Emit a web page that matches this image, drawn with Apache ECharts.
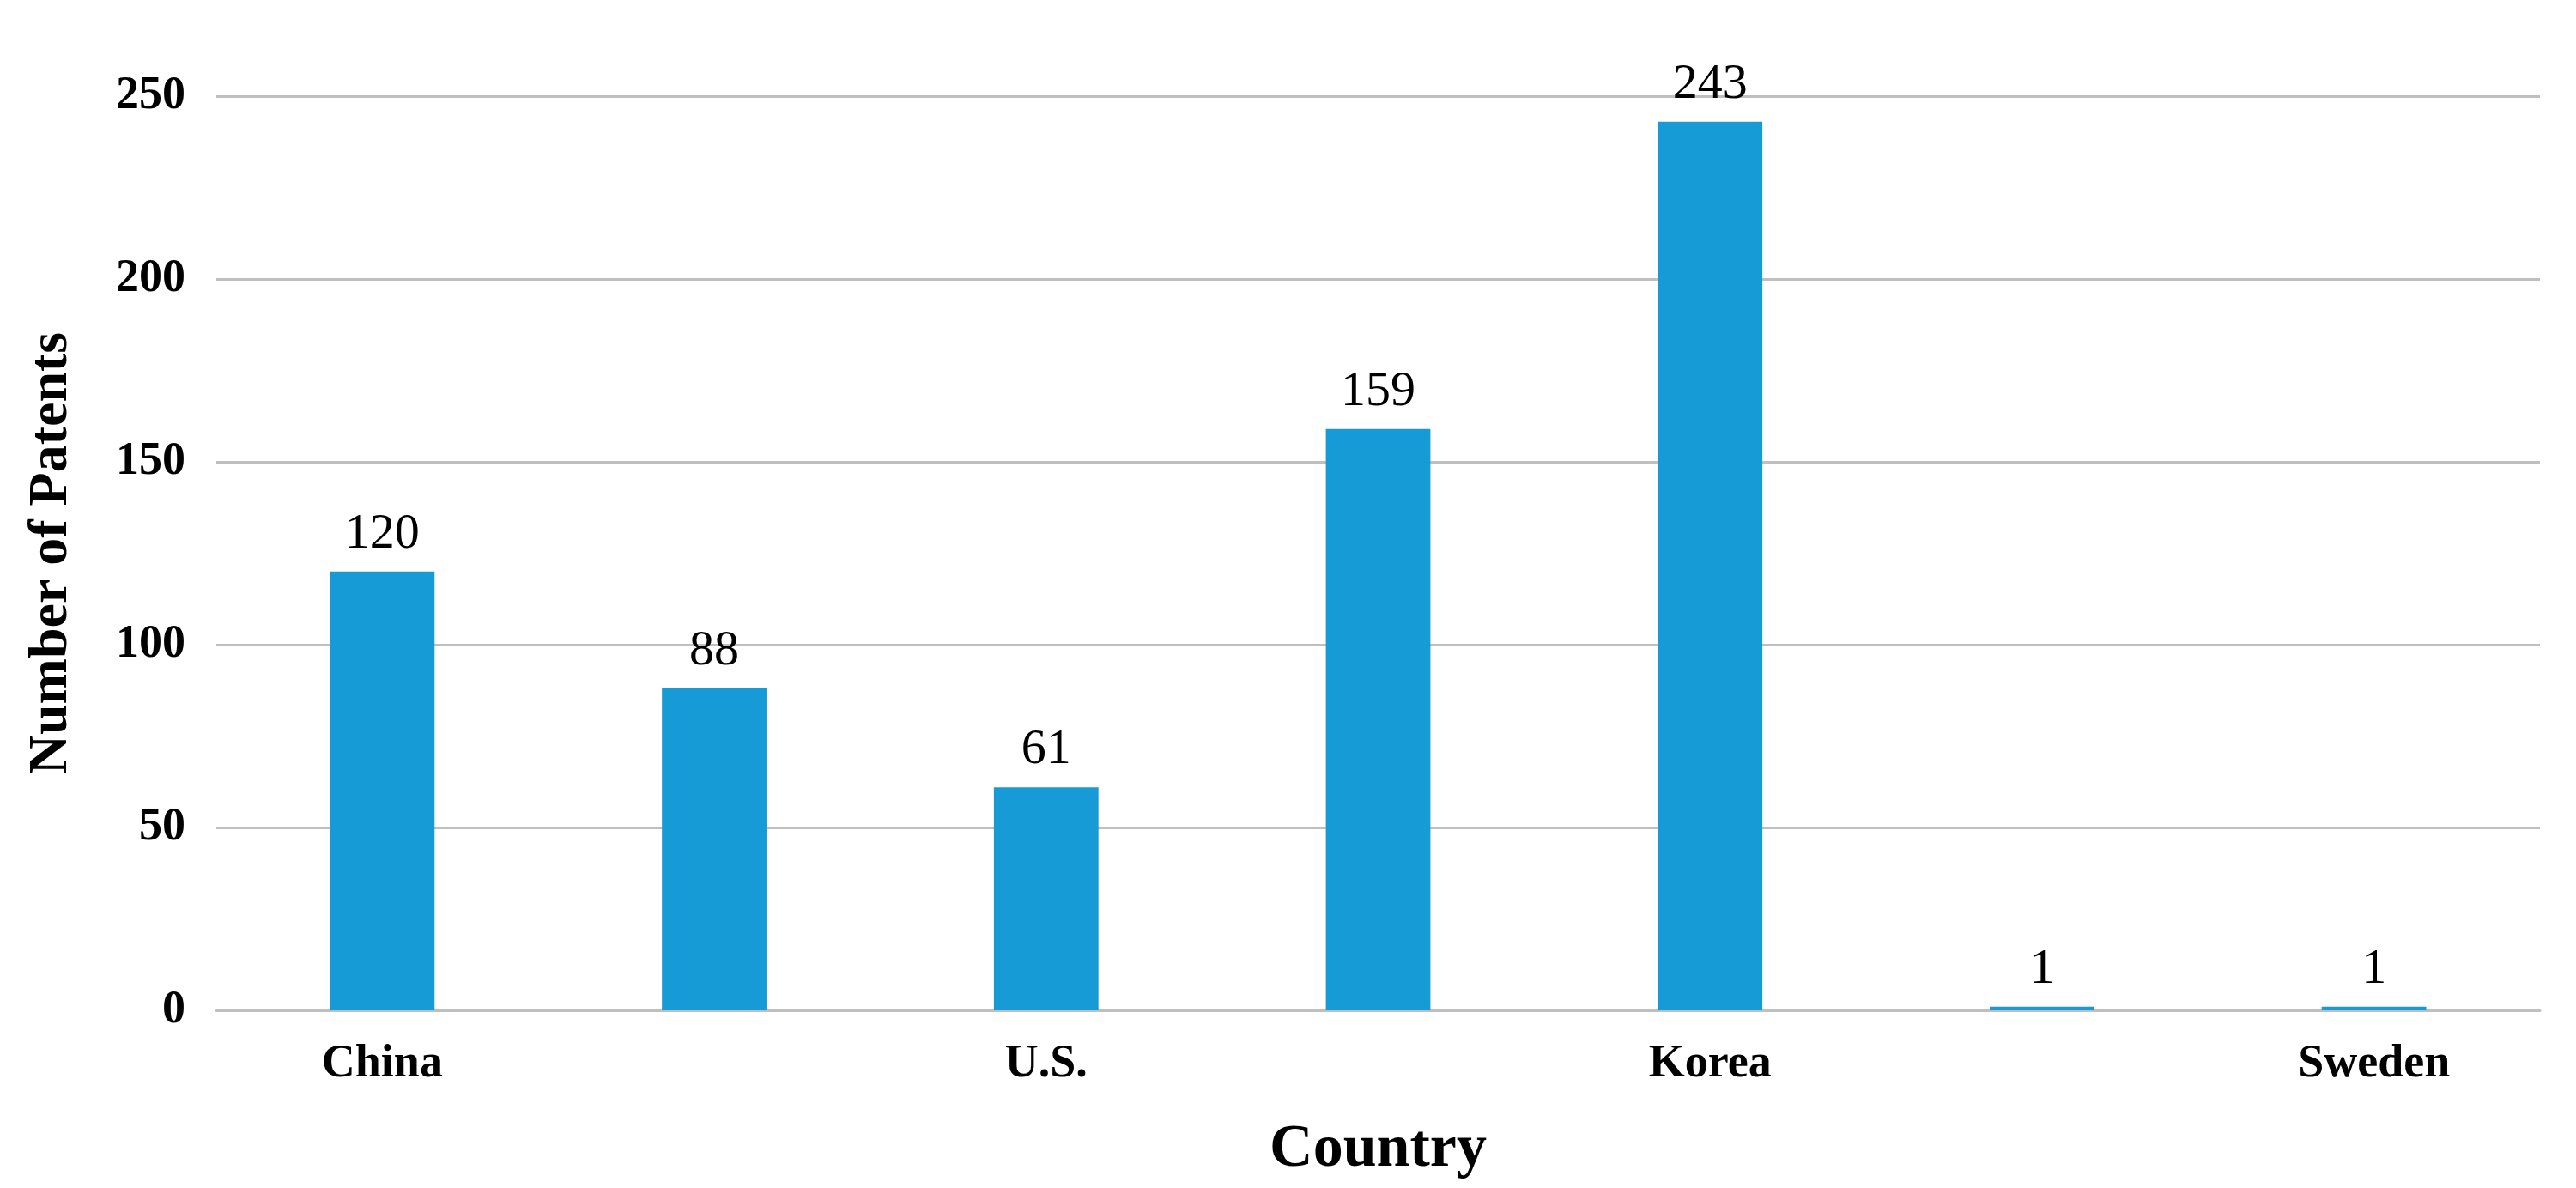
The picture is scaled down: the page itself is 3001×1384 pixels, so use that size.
<!DOCTYPE html>
<html><head><meta charset="utf-8">
<script src="https://cdn.jsdelivr.net/npm/echarts@6/dist/echarts.min.js"></script>
<style>html,body{margin:0;padding:0;background:#fff}#c{width:3001px;height:1384px}</style>
</head><body><div id="c"></div>
<script>
const categories = ['China','Germany','U.S.','Japan','Korea','Czechoslovakia','Sweden'];
const patents = [120, 88, 61, 159, 243, 1, 1];
const yTicks = [0, 50, 100, 150, 200, 250];
const F = '"Liberation Serif","Times New Roman",serif';
const chart = echarts.init(document.getElementById('c'));
chart.setOption({
  animation:false,
  grid:{left:252,right:42,top:112,bottom:207},
  xAxis:{type:'category',data:categories,
    name:'Country',nameLocation:'middle',nameGap:128,
    nameTextStyle:{fontFamily:F,fontWeight:'bold',fontSize:70,color:'#000'},
    axisLine:{lineStyle:{color:'#bfbfbf',width:3}},axisTick:{show:false},
    axisLabel:{fontFamily:F,fontWeight:'bold',fontSize:54,color:'#000',margin:36}},
  yAxis:{type:'value',min:0,max:250,interval:50,
    name:'Number of Patents',nameLocation:'middle',nameGap:160,
    nameTextStyle:{fontFamily:F,fontWeight:'bold',fontSize:64,color:'#000'},
    axisLine:{show:false},axisTick:{show:false},
    splitLine:{lineStyle:{color:'#bfbfbf',width:3}},
    axisLabel:{fontFamily:F,fontWeight:'bold',fontSize:54,color:'#000',margin:36,
      formatter:v=>yTicks.includes(v)?String(v):''}},
  series:[{type:'bar',data:patents,barWidth:'31.5%',
    itemStyle:{color:'#179bd7'},
    label:{show:true,position:'top',distance:14,fontFamily:F,fontSize:58,color:'#000'}}]
});
</script></body></html>
